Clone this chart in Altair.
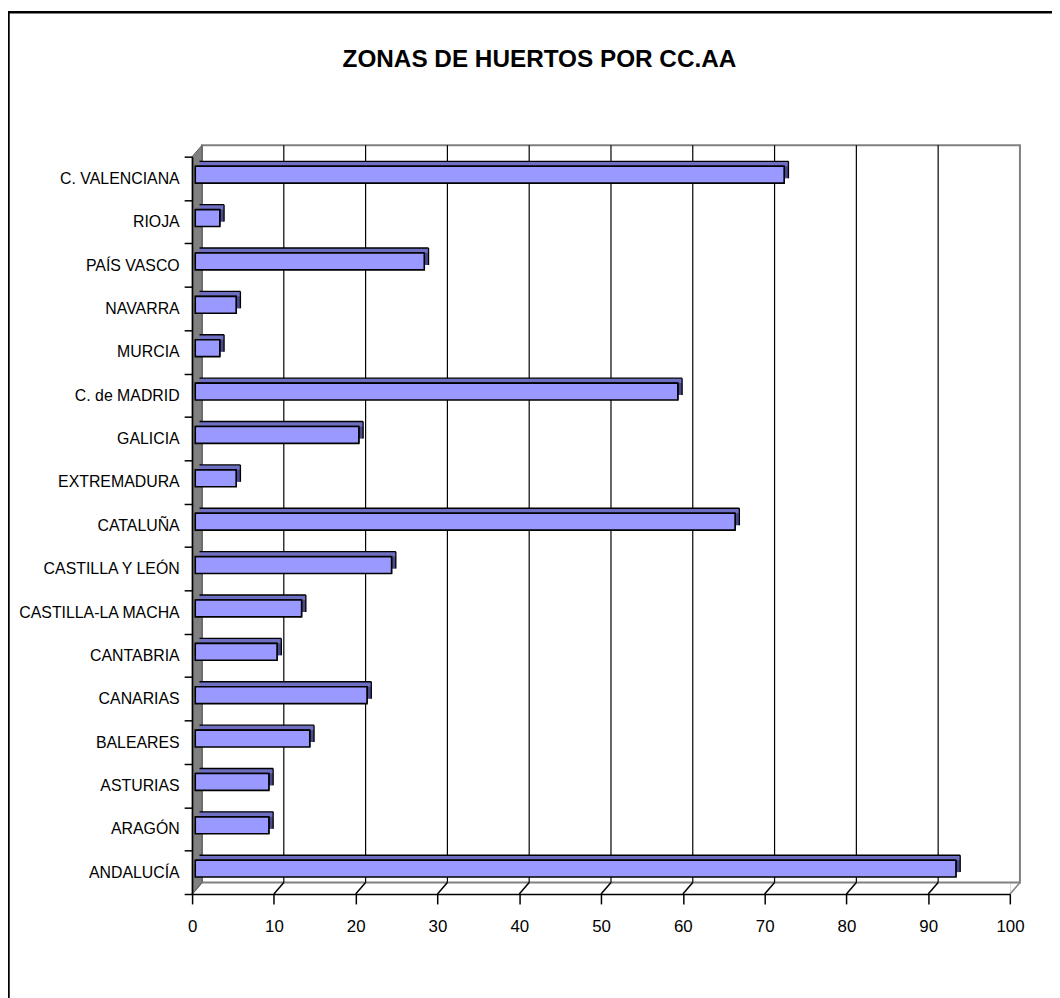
import json
import altair as alt
import pandas as pd

# ---------------- data ----------------
categories = ["ANDALUCÍA", "ARAGÓN", "ASTURIAS", "BALEARES", "CANARIAS", "CANTABRIA",
              "CASTILLA-LA MACHA", "CASTILLA Y LEÓN", "CATALUÑA", "EXTREMADURA",
              "GALICIA", "C. de MADRID", "MURCIA", "NAVARRA", "PAÍS VASCO", "RIOJA",
              "C. VALENCIANA"]
values = [93, 9, 9, 14, 21, 10, 13, 24, 66, 5, 20, 59, 3, 5, 28, 3, 72]
x_ticks = [0, 10, 20, 30, 40, 50, 60, 70, 80, 90, 100]
title_text = "ZONAS DE HUERTOS POR CC.AA"

# ---------------- layout ----------------
PLOT_W, PLOT_H = 824.2, 743.0
PAD_L, PAD_T = 185.5, 146.0
CANVAS_W, CANVAS_H = 1052, 990
N = len(categories)
XMAX = x_ticks[-1]
ux = PLOT_W / XMAX
uy = PLOT_H / N
DX, DY = 10 / ux, 11.5 / uy          # wall depth (data units)
BX0 = 3.2 / ux                        # bar front offset
BDX, BDY = 4.3 / ux, 5.0 / uy         # bar depth
BC = 3.7 / uy                         # bar centre shift
BH = 8.5 / uy                         # half bar height

FONT = "Liberation Sans, Arial, sans-serif"
FRONT, TOPC, SIDEC = "#9999FF", "#6E6EC2", "#4A4A8A"

bars = pd.DataFrame({"cat": categories, "value": values})
bars["i"] = range(N)
bars["x0"] = BX0
bars["xe"] = BX0 + bars["value"]
bars["yb"] = bars["i"] + 0.5 + BC - BH
bars["yt"] = bars["i"] + 0.5 + BC + BH
bars["bx0"] = bars["x0"] + BDX
bars["bxe"] = bars["xe"] + BDX
bars["byb"] = bars["yb"] + BDY
bars["byt"] = bars["yt"] + BDY

top_rows, side_rows = [], []
for r in bars.itertuples():
    top_rows.append({"cat": r.cat, "y": r.yt, "xl": r.x0, "xr": r.xe, "k": 0})
    top_rows.append({"cat": r.cat, "y": r.byt, "xl": r.bx0, "xr": r.bxe, "k": 1})
    side_rows.append({"cat": r.cat, "x": r.xe, "ylo": r.yb, "yhi": r.yt, "k": 0})
    side_rows.append({"cat": r.cat, "x": r.bxe, "ylo": r.byb, "yhi": r.byt, "k": 1})
top_df = pd.DataFrame(top_rows)
side_df = pd.DataFrame(side_rows)

wall_df = pd.DataFrame([{"x": DX, "x2": XMAX + DX, "y": DY, "y2": N + DY}])
grid_df = pd.DataFrame({"gx": [v + DX for v in x_ticks[1:-1]]})
grid_df["y1"] = DY
grid_df["y2"] = N + DY
diag_df = pd.DataFrame({"x": x_ticks})
diag_df["x2"] = diag_df["x"] + DX
diag_df["y"] = 0.0
diag_df["y2"] = DY
diag_df["c"] = ["#808080" if v in (x_ticks[0], x_ticks[-1]) else "black" for v in x_ticks]
lwall_df = pd.DataFrame([{"x": 0.0, "ylo": 0.0, "yhi": float(N)},
                         {"x": DX, "ylo": DY, "yhi": N + DY}])
one = pd.DataFrame([{"t": title_text}])

# ---------------- scales / axes ----------------
xs = alt.Scale(domain=[0, XMAX], nice=False, zero=False)
ys = alt.Scale(domain=[0, N], nice=False, zero=False)
xaxis = alt.Axis(values=x_ticks, grid=False, domainColor="black", domainWidth=1.5,
                 tickColor="black", tickSize=10, tickWidth=1.5, labelFont=FONT,
                 labelFontSize=17, labelColor="black", labelPadding=15, title=None,
                 labelFlush=False, zindex=1)
lab_arr = json.dumps(categories, ensure_ascii=False)
yaxis = alt.Axis(values=list(range(N + 1)), grid=False, domainColor="black", domainWidth=1.5,
                 tickColor="black", tickSize=8, tickWidth=1.5, labelFont=FONT,
                 labelFontSize=16, labelColor="black", labelPadding=5, title=None,
                 labelFlush=False, labelOverlap=False, labelOffset=-uy / 2, zindex=1,
                 labelExpr=f"datum.value < {N} ? {lab_arr}[datum.value] : ''")


def X(f, **kw):
    return alt.X(f, type="quantitative", scale=xs, axis=xaxis, title=None, **kw)


def Y(f, **kw):
    return alt.Y(f, type="quantitative", scale=ys, axis=yaxis, title=None, **kw)


border = alt.Chart(one).mark_rect(filled=False, stroke="black", strokeWidth=2.5).encode(
    x=alt.value(-PAD_L + 0.5), y=alt.value(-PAD_T + 0.5), x2=alt.value(1300), y2=alt.value(1300))

title = alt.Chart(one).mark_text(font=FONT, fontSize=24.5, fontWeight="bold", color="black",
                                 align="center", baseline="middle").encode(
    x=alt.value(350), y=alt.value(-97), text="t:N")

wall = alt.Chart(wall_df).mark_rect(fill="white", stroke="#808080", strokeWidth=2).encode(
    x=X("x"), x2="x2:Q", y=Y("y"), y2="y2:Q")

grid = alt.Chart(grid_df).mark_rule(color="black", strokeWidth=1.2).encode(
    x=X("gx"), y=Y("y1"), y2="y2:Q")

diag = alt.Chart(diag_df).mark_rule(strokeWidth=1.5).encode(
    x=X("x"), x2="x2:Q", y=Y("y"), y2="y2:Q", color=alt.Color("c:N", scale=None))

lwall = alt.Chart(lwall_df).mark_area(orient="vertical", filled=True, stroke="#5a5a5a",
                                      strokeWidth=1, opacity=1).encode(
    x=X("x"), y=Y("ylo", stack=None), y2="yhi:Q", color=alt.value("#808080"))

# colour bases for the bar depth faces (top and right side)
back = alt.Chart(bars).mark_rect(fill=TOPC, strokeWidth=0).encode(
    x=X("bx0"), x2="bxe:Q", y=Y("byb"), y2="byt:Q")
sidebase = alt.Chart(bars).mark_rect(fill=SIDEC, strokeWidth=0).encode(
    x=X("xe"), x2="bxe:Q", y=Y("byb"), y2="yt:Q")

side = alt.Chart(side_df).mark_area(orient="vertical", filled=True, stroke="black",
                                    strokeWidth=1.3, opacity=1).encode(
    x=X("x"), y=Y("ylo", stack=None), y2="yhi:Q", detail="cat:N", order="k:Q",
    color=alt.value(SIDEC))

top = alt.Chart(top_df).mark_area(orient="horizontal", filled=True, stroke="black",
                                  strokeWidth=1.3, opacity=1).encode(
    y=Y("y"), x=X("xl", stack=None), x2="xr:Q", detail="cat:N", order="k:Q",
    color=alt.value(TOPC))

front = alt.Chart(bars).mark_rect(fill=FRONT, stroke="black", strokeWidth=1.6).encode(
    x=X("x0"), x2="xe:Q", y=Y("yb"), y2="yt:Q", tooltip=["cat:N", "value:Q"])

chart = alt.layer(border, title, wall, grid, diag, lwall, back, sidebase, side, top, front).properties(
    width=PLOT_W, height=PLOT_H,
    padding={"left": PAD_L, "top": PAD_T, "right": CANVAS_W - PAD_L - PLOT_W,
             "bottom": CANVAS_H - PAD_T - PLOT_H},
    autosize=alt.AutoSizeParams(type="none"),
).configure_view(stroke=None).configure(background="white")

chart.save("out.html", embed_options={"renderer": "svg", "actions": False})
